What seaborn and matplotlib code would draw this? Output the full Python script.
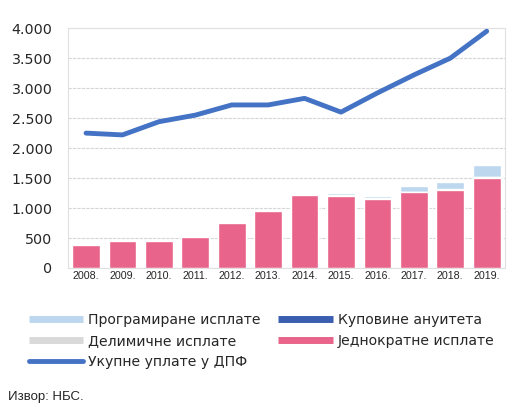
import numpy as np
import pandas as pd
import seaborn as sns
import matplotlib.pyplot as plt
from matplotlib.lines import Line2D

years = ["2008.", "2009.", "2010.", "2011.", "2012.", "2013.",
         "2014.", "2015.", "2016.", "2017.", "2018.", "2019."]
jednokratne = [380, 450, 455, 520, 755, 955, 1215, 1205, 1150, 1260, 1300, 1505]
kupovine = [0, 0, 0, 0, 0, 0, 2, 3, 3, 4, 4, 5]
delimicne = [0, 0, 0, 0, 0, 0, 5, 8, 10, 12, 12, 15]
programirane = [0, 0, 0, 0, 0, 0, 8, 30, 40, 95, 125, 190]
ukupne_uplate = [2250, 2220, 2440, 2550, 2720, 2720, 2830, 2600, 2920, 3220, 3500, 3950]

labels = ["Програмиране исплате", "Куповине ануитета", "Делимичне исплате",
          "Једнократне исплате", "Укупне уплате у ДПФ"]
colors = {"prog": "#bdd7ee", "kup": "#3a5fb0", "del": "#d9d9d9",
          "jed": "#e8648a", "line": "#4472c4"}

df = pd.DataFrame({"year": years, "jed": jednokratne, "kup": kupovine,
                   "del": delimicne, "prog": programirane})
df["c1"] = df["jed"]
df["c2"] = df["c1"] + df["kup"]
df["c3"] = df["c2"] + df["del"]
df["c4"] = df["c3"] + df["prog"]

sns.set_style("white")
plt.rcParams["font.family"] = ["DejaVu Sans"]

fig = plt.figure(figsize=(5.1, 4.03), dpi=100)
ax = fig.add_axes([0.133, 0.335, 0.857, 0.595])

# stacked bars drawn as cumulative totals, tallest first
for col, key in [("c4", "prog"), ("c3", "del"), ("c2", "kup"), ("c1", "jed")]:
    sns.barplot(data=df, x="year", y=col, color=colors[key], width=0.76,
                saturation=1, ax=ax, zorder=2)

sns.lineplot(x=np.arange(len(years)), y=ukupne_uplate, color=colors["line"],
             linewidth=3.5, ax=ax, zorder=3)

ax.set_ylim(0, 4000)
ax.set_xlim(-0.5, len(years) - 0.5)
ax.set_yticks(range(0, 4001, 500))
ax.set_yticklabels([f"{v:,}".replace(",", ".") for v in range(0, 4001, 500)], fontsize=10.3)
for t in ax.get_xticklabels():
    t.set_family("Liberation Sans")
ax.tick_params(axis="x", labelsize=7.7, pad=2, length=0)
ax.tick_params(axis="y", pad=11, length=0)
ax.set_xlabel("")
ax.set_ylabel("")
ax.yaxis.grid(True, color="#d6d6d6", linewidth=0.8, linestyle=(0, (3, 1)))
ax.set_axisbelow(True)
for s in ax.spines.values():
    s.set_color("#e0e0e0")
    s.set_linewidth(0.8)

handles = [
    Line2D([], [], color=colors["prog"], linewidth=5, solid_capstyle="butt"),
    Line2D([], [], color=colors["del"], linewidth=5, solid_capstyle="butt"),
    Line2D([], [], color=colors["line"], linewidth=3.5),
    Line2D([], [], color=colors["kup"], linewidth=5, solid_capstyle="butt"),
    Line2D([], [], color=colors["jed"], linewidth=5, solid_capstyle="butt"),
]
leg_labels = [labels[0], labels[2], labels[4], labels[1], labels[3]]
fig.legend(handles, leg_labels, ncol=2, loc="upper left",
           bbox_to_anchor=(0.045, 0.237), frameon=False, fontsize=10.1,
           handlelength=3.9, handletextpad=0.35, columnspacing=1.25,
           labelspacing=0.5, borderaxespad=0)

fig.text(0.016, 0.016, "Извор: НБС.", fontsize=9.5, va="center",
         family="Liberation Sans")

fig.savefig("out.png", dpi=100)
